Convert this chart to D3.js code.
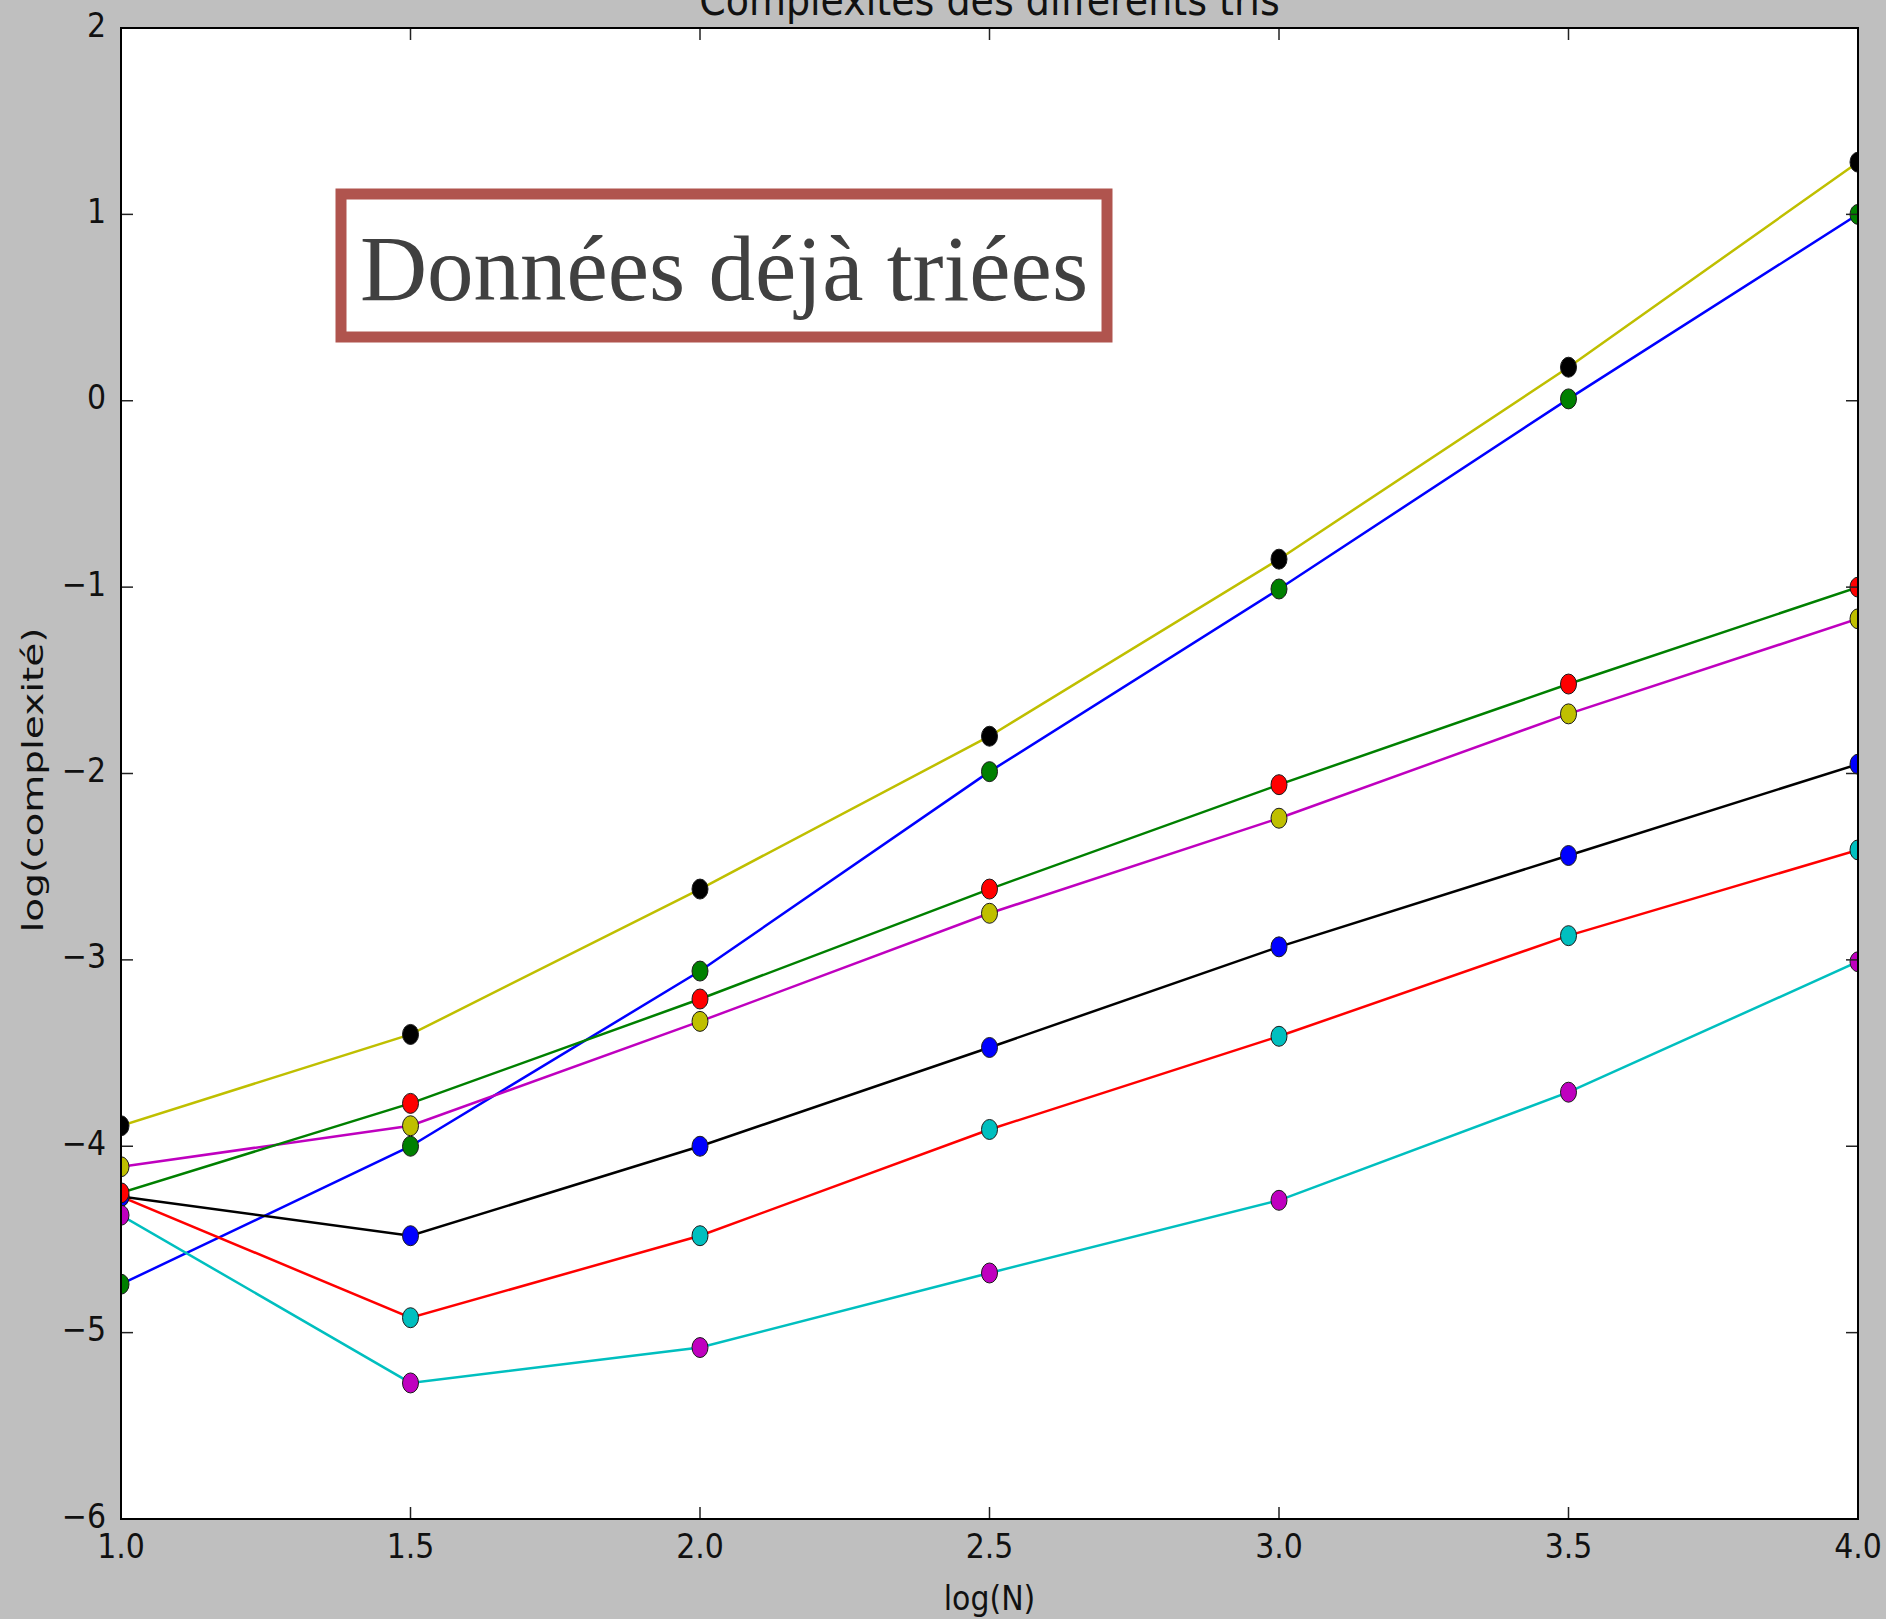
<!DOCTYPE html>
<html>
<head>
<meta charset="utf-8">
<script src="https://cdn.jsdelivr.net/npm/d3@7.9.0/dist/d3.min.js"></script>
<style>
  html, body { margin: 0; padding: 0; background: #bfbfbf; }
  svg { display: block; }
  text { font-family: "DejaVu Sans", sans-serif; fill: #111; }
</style>
</head>
<body>
<svg id="chart" width="1886" height="1619"></svg>
<script>
// log(N) values on the x axis
const logN = [1.0, 1.5, 2.0, 2.5, 3.0, 3.5, 4.0];

// each sort: line drawn in one colour, its points in the next colour of the cycle
const serieA = [-4.74, -4.00, -3.06, -1.99, -1.01, 0.01, 1.00];
const serieB = [-4.27, -4.92, -4.48, -3.91, -3.41, -2.87, -2.41];
const serieC = [-4.11, -3.89, -3.33, -2.75, -2.24, -1.68, -1.17];
const serieD = [-4.27, -4.48, -4.00, -3.47, -2.93, -2.44, -1.95];
const serieE = [-4.25, -3.77, -3.21, -2.62, -2.06, -1.52, -1.00];
const serieF = [-4.37, -5.27, -5.08, -4.68, -4.29, -3.71, -3.01];
const serieG = [-3.89, -3.40, -2.62, -1.80, -0.85, 0.18, 1.28];

const lineColors = ['#0000ff', '#ff0000', '#bf00bf', '#000000', '#008000', '#00bfbf', '#bfbf00'];
const dotColors  = ['#008000', '#00bfbf', '#bfbf00', '#0000ff', '#ff0000', '#bf00bf', '#000000'];
const allSeries = [serieA, serieB, serieC, serieD, serieE, serieF, serieG];

const xTicks = [1.0, 1.5, 2.0, 2.5, 3.0, 3.5, 4.0];
const yTicks = [-6, -5, -4, -3, -2, -1, 0, 1, 2];

const pLeft = 121, pRight = 1858, pTop = 28, pBottom = 1519;
// the source picture is a bit stretched vertically
const stretch = 1.14;

const svg = d3.select('#chart');

const x = d3.scaleLinear().domain([1, 4]).range([pLeft, pRight]);
const y = d3.scaleLinear().domain([-6, 2]).range([pBottom, pTop]);

svg.append('rect')
  .attr('x', pLeft).attr('y', pTop)
  .attr('width', pRight - pLeft).attr('height', pBottom - pTop)
  .attr('fill', '#ffffff');

svg.append('clipPath').attr('id', 'plot-clip')
  .append('rect')
  .attr('x', pLeft).attr('y', pTop)
  .attr('width', pRight - pLeft).attr('height', pBottom - pTop);

const plot = svg.append('g').attr('clip-path', 'url(#plot-clip)');

let line = d3.line()
  .x((d, i) => x(logN[i]))
  .y((d) => y(d));

allSeries.forEach((s, idx) => {
  plot.append('path')
    .attr('d', line(s))
    .attr('fill', 'none')
    .attr('stroke', lineColors[idx])
    .attr('stroke-width', 2.5);

  plot.selectAll(null)
    .data(s)
    .join('ellipse')
    .attr('cx', (d, i) => x(logN[i]))
    .attr('cy', (d) => y(d))
    .attr('rx', 8)
    .attr('ry', 10)
    .attr('fill', dotColors[idx])
    .attr('stroke', '#1a1a1a')
    .attr('stroke-width', 1);
});

// ticks pointing inwards on the four sides
const tickLen = 12;
const ticks = svg.append('g').attr('stroke', '#222').attr('stroke-width', 1.5);
xTicks.forEach((t) => {
  ticks.append('line').attr('x1', x(t)).attr('x2', x(t)).attr('y1', pBottom).attr('y2', pBottom - tickLen);
  ticks.append('line').attr('x1', x(t)).attr('x2', x(t)).attr('y1', pTop).attr('y2', pTop + tickLen);
});
yTicks.forEach((t) => {
  ticks.append('line').attr('x1', pLeft).attr('x2', pLeft + tickLen).attr('y1', y(t)).attr('y2', y(t));
  ticks.append('line').attr('x1', pRight).attr('x2', pRight - tickLen).attr('y1', y(t)).attr('y2', y(t));
});

svg.append('rect')
  .attr('x', pLeft).attr('y', pTop)
  .attr('width', pRight - pLeft).attr('height', pBottom - pTop)
  .attr('fill', 'none')
  .attr('stroke', '#000')
  .attr('stroke-width', 2);

// tick labels
svg.selectAll('.xlab')
  .data(xTicks)
  .join('text')
  .attr('transform', (d) => `translate(${x(d)}, 1558) scale(1, ${stretch})`)
  .attr('text-anchor', 'middle')
  .attr('font-size', 30)
  .text((d) => d.toFixed(1));

svg.selectAll('.ylab')
  .data(yTicks)
  .join('text')
  .attr('transform', (d) => `translate(106, ${y(d) + 8.5}) scale(1, ${stretch})`)
  .attr('text-anchor', 'end')
  .attr('font-size', 30)
  .text((d) => (d < 0 ? '\u2212' + Math.abs(d) : String(d)));

// axis titles
svg.append('text')
  .attr('transform', `translate(${(pLeft + pRight) / 2}, 1610) scale(1, ${stretch})`)
  .attr('text-anchor', 'middle')
  .attr('font-size', 30)
  .text('log(N)');

svg.append('text')
  .attr('transform', `translate(43, 780) rotate(-90)`)
  .attr('text-anchor', 'middle')
  .attr('font-size', 29)
  .attr('textLength', 305)
  .attr('lengthAdjust', 'spacingAndGlyphs')
  .text('log(complexité)');

svg.append('text')
  .attr('transform', `translate(${(pLeft + pRight) / 2}, 15) scale(1, ${stretch})`)
  .attr('text-anchor', 'middle')
  .attr('font-size', 38)
  .text('Complexités des différents tris');

// annotation box
svg.append('rect')
  .attr('x', 341).attr('y', 194)
  .attr('width', 766).attr('height', 143)
  .attr('fill', '#ffffff')
  .attr('stroke', '#b0544e')
  .attr('stroke-width', 11);

svg.append('text')
  .attr('x', 724)
  .attr('y', 300)
  .attr('text-anchor', 'middle')
  .attr('font-size', 93)
  .style('font-family', '"Liberation Serif", "DejaVu Serif", serif')
  .style('fill', '#404040')
  .text('Données déjà triées');
</script>
</body>
</html>
